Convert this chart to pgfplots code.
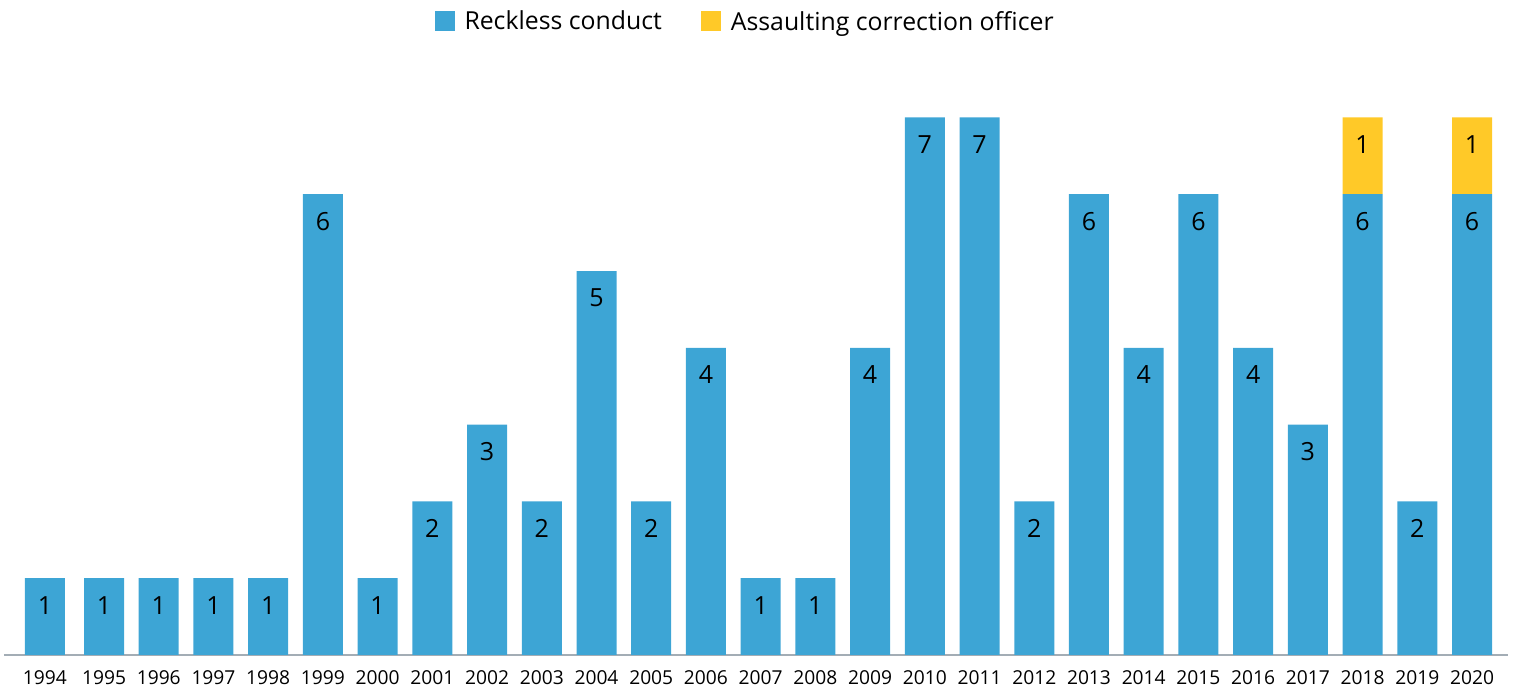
\documentclass[border=0pt]{standalone}
\usepackage{pgfplots}
\usepackage{pgfplotstable}
\pgfplotsset{compat=1.18}
\usepackage{fontspec}
\setmainfont{Open Sans}

\definecolor{reckblue}{RGB}{61,165,213}
\definecolor{assaultyellow}{RGB}{255,201,40}
\definecolor{baseline}{RGB}{163,173,181}

% pos: horizontal slot of the bar; reck / assault: counts per year
\pgfplotstableread{
pos     year reck assault
1993.92 1994 1 0
1995    1995 1 0
1996    1996 1 0
1997    1997 1 0
1998    1998 1 0
1999    1999 6 0
2000    2000 1 0
2001    2001 2 0
2002    2002 3 0
2003    2003 2 0
2004    2004 5 0
2005    2005 2 0
2006    2006 4 0
2007    2007 1 0
2008    2008 1 0
2009    2009 4 0
2010    2010 7 0
2011    2011 7 0
2012    2012 2 0
2013    2013 6 0
2014    2014 4 0
2015    2015 6 0
2016    2016 4 0
2017    2017 3 0
2018    2018 6 1
2019    2019 2 0
2020    2020 6 1
}\datatable

% one unit of count = 38.4pt of bar height; labels sit 13.5pt below each segment top
\begin{document}
\begin{tikzpicture}
\path[use as bounding box] (-2pt,-17pt) rectangle (757pt,327.5pt);
\begin{axis}[
  at={(0,0)}, anchor=south west,
  scale only axis,
  width=752pt, height=284.16pt,
  xmin=1993.172, xmax=2020.658,
  ymin=0, ymax=7.4,
  enlargelimits=false,
  ybar stacked,
  bar width=20pt,
  axis y line=none,
  axis x line=bottom,
  x axis line style={-, draw=baseline, line width=0.8pt},
  xtick={1993.92,1995,1996,1997,1998,1999,2000,2001,2002,2003,2004,2005,2006,2007,2008,2009,2010,2011,2012,2013,2014,2015,2016,2017,2018,2019,2020},
  xticklabels={1994,1995,1996,1997,1998,1999,2000,2001,2002,2003,2004,2005,2006,2007,2008,2009,2010,2011,2012,2013,2014,2015,2016,2017,2018,2019,2020},
  major tick length=0pt,
  xticklabel style={anchor=center, yshift=-11.5pt, font=\fontsize{9.6}{11}\selectfont},
  /pgf/number format/assume math mode=true,
  point meta=explicit,
  nodes near coords={\pgfmathfloattofixed{\pgfplotspointmeta}\ifdim\pgfmathresult pt>0.5pt \pgfmathprintnumber{\pgfplotspointmeta}\fi},
  every node near coord/.append style={anchor=center, font=\fontsize{12.5}{14}\selectfont, text=black},
  legend columns=2,
  legend style={at={(0.4934,1.1137)}, anchor=center, draw=none, fill=none,
    font=\fontsize{12.4}{14}\selectfont,
    /tikz/every even column/.append style={column sep=17.5pt},
    /tikz/every odd column/.append style={column sep=3pt}},
  legend image code/.code={\fill[#1] (0pt,-4.7pt) rectangle (10pt,5.3pt);},
  legend cell align=left,
]
\addplot[fill=reckblue, draw=none,
  visualization depends on={\thisrow{reck} \as \segv},
  every node near coord/.append style={yshift={\segv*19.2pt-13.5pt}}]
  table[x=pos, y=reck, meta=reck] {\datatable};
\addlegendentry{Reckless conduct}
\addplot[fill=assaultyellow, draw=none,
  visualization depends on={\thisrow{assault} \as \segv},
  every node near coord/.append style={yshift={\segv*19.2pt-13.5pt}}]
  table[x=pos, y=assault, meta=assault] {\datatable};
\addlegendentry{Assaulting correction officer}
\end{axis}
\end{tikzpicture}
\end{document}
